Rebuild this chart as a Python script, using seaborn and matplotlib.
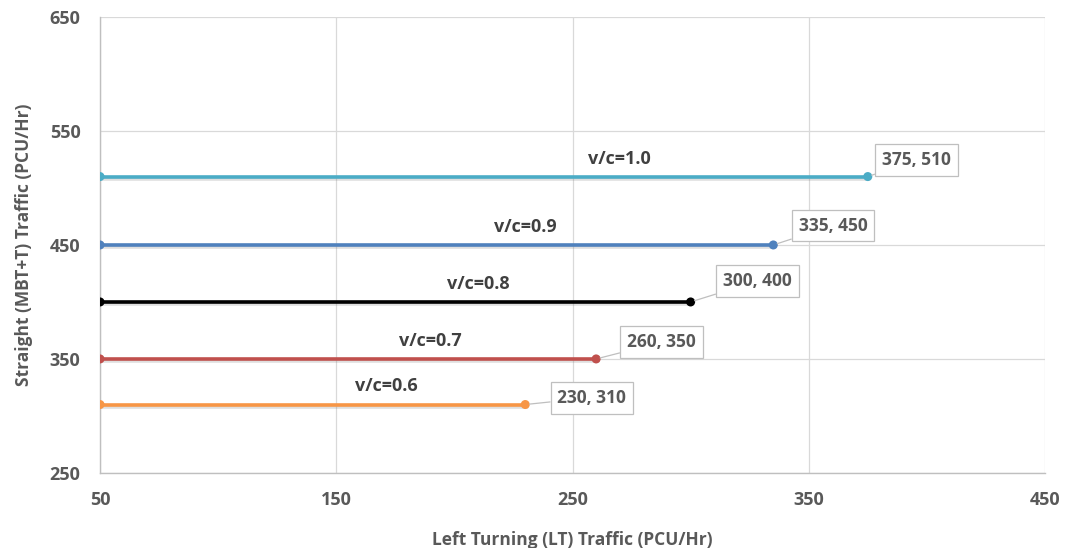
import matplotlib
matplotlib.use("Agg")
import matplotlib.pyplot as plt
import matplotlib.patheffects as pe
import pandas as pd
import seaborn as sns

# Capacity curves: each v/c level runs from LT = 50 to its end point
vc_labels = ["v/c=0.6", "v/c=0.7", "v/c=0.8", "v/c=0.9", "v/c=1.0"]
lt_start = [50, 50, 50, 50, 50]
lt_end = [230, 260, 300, 335, 375]
straight = [310, 350, 400, 450, 510]
colors = ["#F79646", "#C0504D", "#000000", "#4F81BD", "#4BACC6"]

x_ticks = [50, 150, 250, 350, 450]
y_ticks = [250, 350, 450, 550, 650]

rows = []
for lab, x0, x1, y in zip(vc_labels, lt_start, lt_end, straight):
    rows.append({"series": lab, "LT": x0, "ST": y})
    rows.append({"series": lab, "LT": x1, "ST": y})
df = pd.DataFrame(rows)

sns.set_style("white")
plt.rcParams["font.family"] = ["Open Sans", "DejaVu Sans"]

fig = plt.figure(figsize=(10.71, 5.48), dpi=100)
ax = fig.add_axes([0.0934, 0.137, 0.8823, 0.832])

shadow = [pe.SimpleLineShadow(offset=(1.0, -1.5), alpha=0.25, shadow_color="gray"), pe.Normal()]
for lab, col in zip(vc_labels, colors):
    sub = df[df["series"] == lab]
    sns.lineplot(data=sub, x="LT", y="ST", ax=ax, color=col, linewidth=2.6,
                 marker="o", markersize=6.5, markeredgewidth=0, legend=False,
                 path_effects=shadow, zorder=3)

ax.set_xlim(50, 450)
ax.set_ylim(250, 650)
ax.set_xticks(x_ticks)
ax.set_yticks(y_ticks)
ax.grid(True, color="#D9D9D9", linewidth=0.9)
ax.set_axisbelow(True)
for side in ["top", "right"]:
    ax.spines[side].set_visible(False)
for side in ["left", "bottom"]:
    ax.spines[side].set_color("#BFBFBF")
    ax.spines[side].set_linewidth(1.0)
ax.tick_params(length=0, labelsize=13, labelcolor="#595959")
ax.tick_params(axis="x", pad=13)
ax.tick_params(axis="y", pad=14)
for t in ax.get_xticklabels() + ax.get_yticklabels():
    t.set_fontweight("bold")

ax.set_xlabel("Left Turning (LT) Traffic (PCU/Hr)", fontsize=12.5, fontweight="bold",
              color="#595959", labelpad=16)
ax.set_ylabel("Straight (MBT+T) Traffic (PCU/Hr)", fontsize=12.5, fontweight="bold",
              color="#595959", labelpad=12)

# Series name written above each line
name_x = [171, 190, 210, 230, 270]
for lab, nx, y in zip(vc_labels, name_x, straight):
    ax.annotate(lab, xy=(nx, y), xytext=(0, 13), textcoords="offset points",
                ha="center", va="center", fontsize=13, fontweight="bold", color="#404040")

# End-point value callouts with leader lines
offsets = [(48, 5), (47, 12), (48, 15), (43, 14), (35, 12)]
for x1, y, (dx, dy) in zip(lt_end, straight, offsets):
    ax.annotate(f"{x1}, {y}", xy=(x1, y), xytext=(dx, dy), textcoords="offset points",
                ha="center", va="center", fontsize=12.5, fontweight="bold", color="#595959",
                bbox=dict(boxstyle="square,pad=0.4", fc="white", ec="#BFBFBF", lw=0.9),
                arrowprops=dict(arrowstyle="-", color="#BFBFBF", lw=0.9,
                                shrinkA=0, shrinkB=3),
                zorder=5)

fig.savefig("out.png", dpi=100)
